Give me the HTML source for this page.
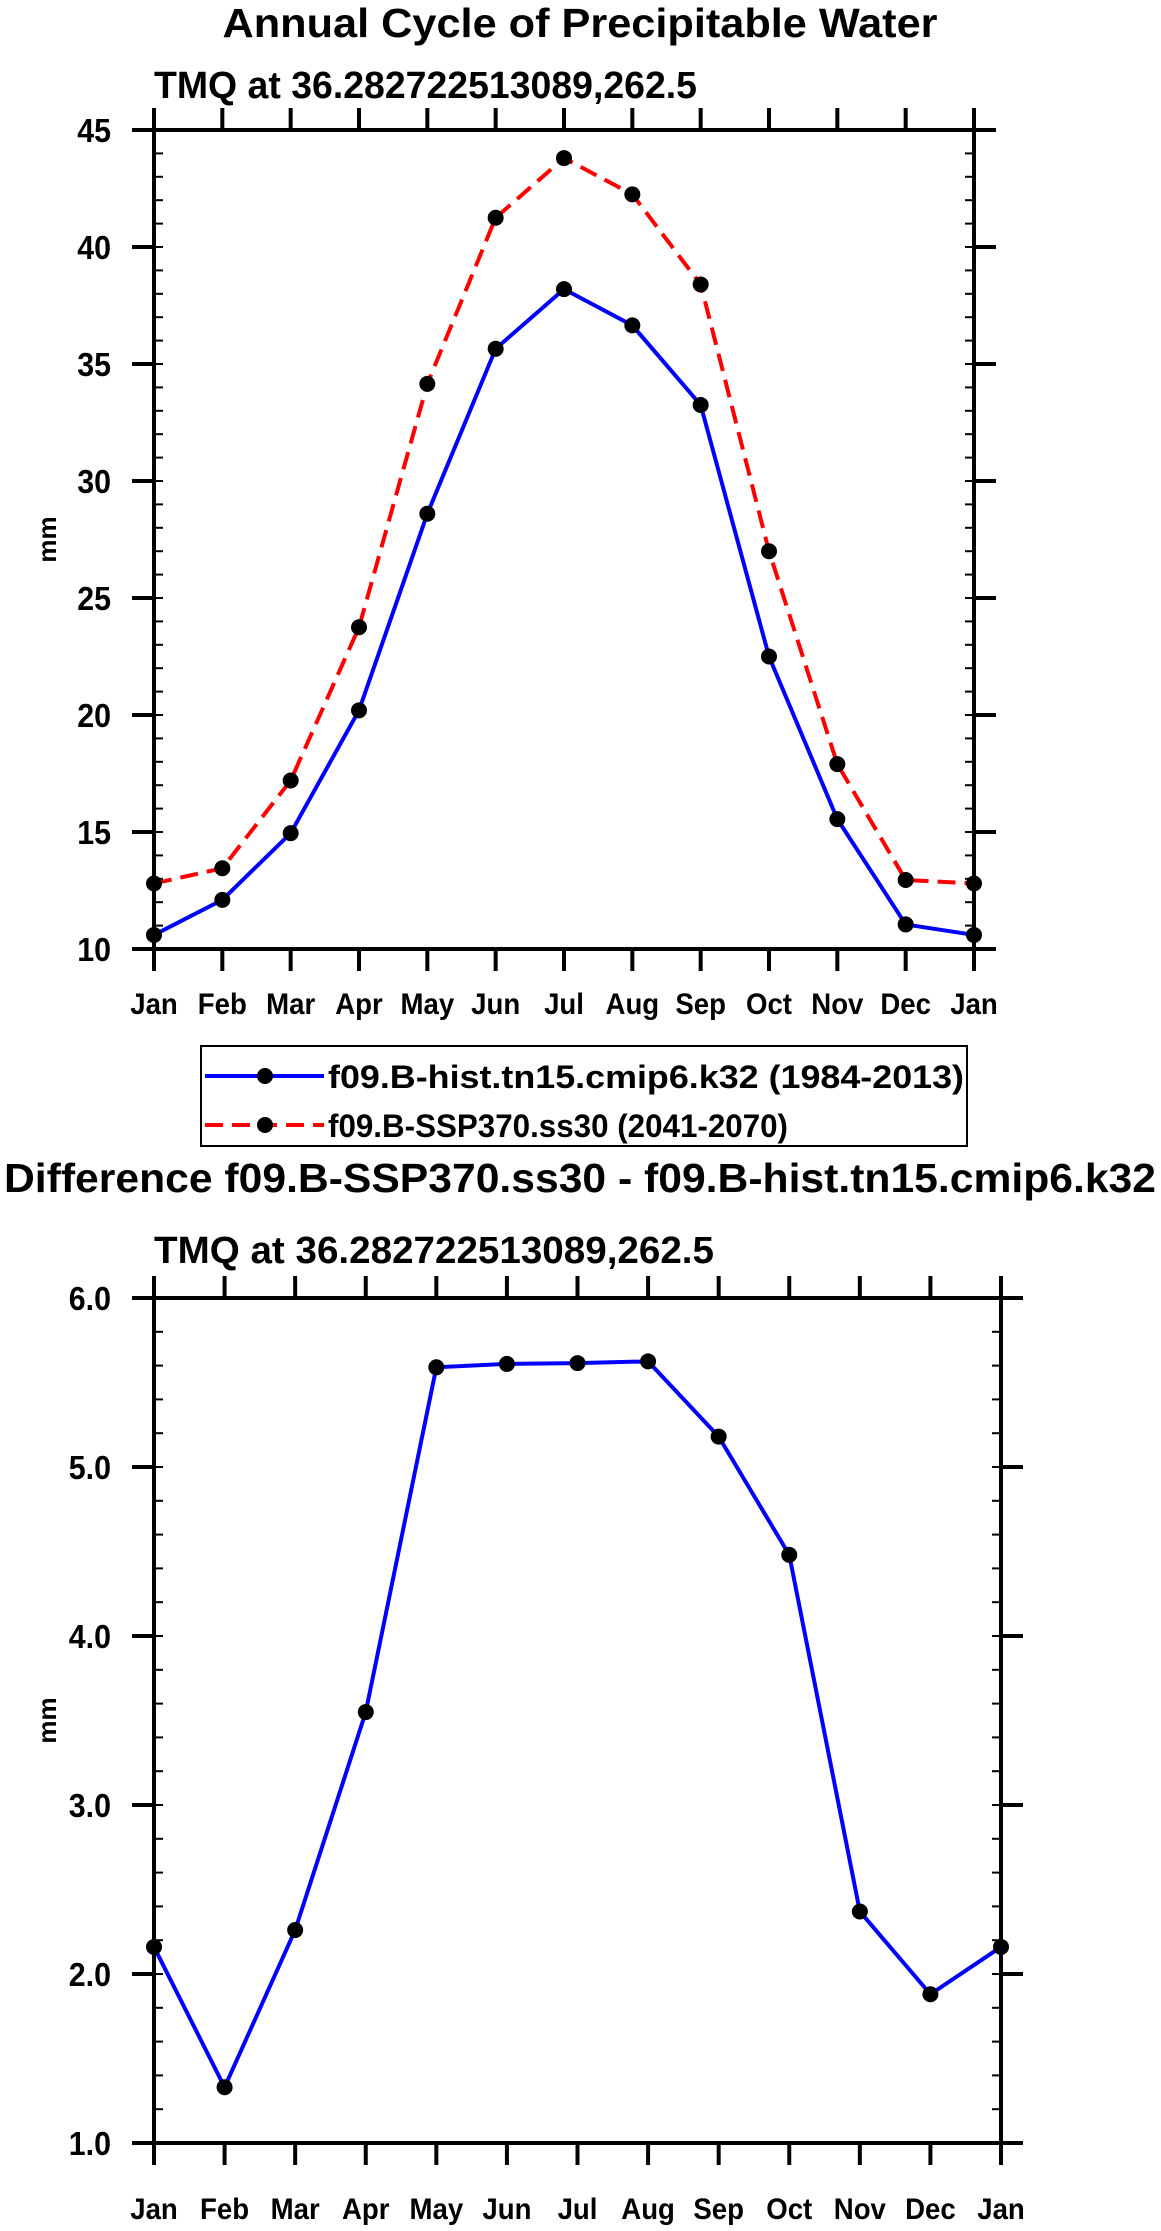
<!DOCTYPE html>
<html><head><meta charset="utf-8"><style>
html,body{margin:0;padding:0;background:#fff}
svg{display:block}
text{font-family:"Liberation Sans",Arial,sans-serif;font-weight:bold;fill:#000}
</style></head><body>
<svg id="fig" width="1161" height="2231" viewBox="0 0 1161 2231" xmlns="http://www.w3.org/2000/svg">
<text x="580" y="37" text-anchor="middle" font-size="41" textLength="715" lengthAdjust="spacingAndGlyphs">Annual Cycle of Precipitable Water</text>
<text x="154" y="98" font-size="38" textLength="543" lengthAdjust="spacingAndGlyphs">TMQ at 36.282722513089,262.5</text>
<text x="580" y="1192" text-anchor="middle" font-size="41" textLength="1152" lengthAdjust="spacingAndGlyphs">Difference f09.B-SSP370.ss30 - f09.B-hist.tn15.cmip6.k32</text>
<text x="154" y="1263" font-size="38" textLength="560" lengthAdjust="spacingAndGlyphs">TMQ at 36.282722513089,262.5</text>
<g id="top"></g>
<g id="bot"></g>
<g>
<rect x="201" y="1046" width="766" height="100" fill="none" stroke="#000" stroke-width="2"/>
<g>
<line x1="205" y1="1076" x2="324" y2="1076" stroke="#0000ff" stroke-width="4"/>
<circle cx="265" cy="1076" r="8" fill="#000"/>
<text x="328" y="1088" font-size="32" textLength="636" lengthAdjust="spacingAndGlyphs">f09.B-hist.tn15.cmip6.k32 (1984-2013)</text>
</g>
<g>
<line x1="205" y1="1125" x2="324" y2="1125" stroke="#ff0000" stroke-width="4" stroke-dasharray="18,9"/>
<circle cx="265" cy="1125" r="8" fill="#000"/>
<text x="328" y="1137" font-size="32" textLength="460" lengthAdjust="spacingAndGlyphs">f09.B-SSP370.ss30 (2041-2070)</text>
</g>
</g>
</svg>
<script>
const months = ["Jan","Feb","Mar","Apr","May","Jun","Jul","Aug","Sep","Oct","Nov","Dec","Jan"];
const histValues = [10.6,12.1,14.95,20.2,28.6,35.65,38.2,36.65,33.25,22.5,15.55,11.05,10.6];
const sspValues = [12.8,13.45,17.2,23.75,34.15,41.25,43.8,42.25,38.4,27.0,17.9,12.95,12.8];
const diffValues = [2.16,1.33,2.26,3.55,5.59,5.61,5.615,5.625,5.18,4.48,2.37,1.88,2.16];
const topTicks = ["10","15","20","25","30","35","40","45"];
const botTicks = ["1.0","2.0","3.0","4.0","5.0","6.0"];

const NS="http://www.w3.org/2000/svg";
function mk(parent,tag,attrs){const e=document.createElementNS(NS,tag);for(const k in attrs)e.setAttribute(k,attrs[k]);parent.appendChild(e);return e;}

function drawChart(g,box,ymin,ymax,minor,ticks,series,labelY,prefix){
  const xs=i=>box.l+(box.r-box.l)*i/(months.length-1);
  const ys=v=>box.b-(box.b-box.t)*(v-ymin)/(ymax-ymin);
  const frame=mk(g,"rect",{x:box.l,y:box.t,width:box.r-box.l,height:box.b-box.t,fill:"none",stroke:"#000","stroke-width":4});
  
  
  for(let v=ymin;v<=ymax+1e-9;v+=minor){
    const y=ys(v);
    mk(g,"line",{x1:box.l,y1:y,x2:box.l+9,y2:y,stroke:"#000","stroke-width":2});
    mk(g,"line",{x1:box.r,y1:y,x2:box.r-9,y2:y,stroke:"#000","stroke-width":2});
  }
  ticks.forEach(t=>{
    const y=ys(parseFloat(t));
    mk(g,"line",{x1:box.l-22,y1:y,x2:box.l,y2:y,stroke:"#000","stroke-width":4});
    mk(g,"line",{x1:box.r,y1:y,x2:box.r+22,y2:y,stroke:"#000","stroke-width":4});
    const tx=mk(g,"text",{x:0,y:0,"text-anchor":"end","font-size":33,transform:`translate(${box.l-43},${y+12}) scale(0.92,1)`});
    tx.textContent=t;
    
    
  });
  months.forEach((m,i)=>{
    const x=xs(i);
    mk(g,"line",{x1:x,y1:box.t-22,x2:x,y2:box.t,stroke:"#000","stroke-width":4});
    mk(g,"line",{x1:x,y1:box.b,x2:x,y2:box.b+22,stroke:"#000","stroke-width":4});
    const tx=mk(g,"text",{x:0,y:0,"text-anchor":"middle","font-size":30,transform:`translate(${x},${labelY}) scale(0.92,1)`});
    tx.textContent=m;
    
    
  });
  const yl=mk(g,"text",{x:0,y:0,"text-anchor":"middle","font-size":26,transform:`translate(${box.l-98},${(box.t+box.b)/2}) rotate(-90)`});
  yl.textContent="mm";
  
  
  series.forEach(s=>{
    const pts=s.values.map((v,i)=>xs(i)+","+ys(v)).join(" ");
    const pl=mk(g,"polyline",{points:pts,fill:"none",stroke:s.color,"stroke-width":4,"stroke-dasharray":s.dash||"none"});
    
    
    s.values.forEach((v,i)=>{
      const c=mk(g,"circle",{cx:xs(i),cy:ys(v),r:8,fill:"#000"});
      
      
    });
  });
}
drawChart(document.getElementById("top"),{l:154,r:974,t:130,b:949},10,45,1,topTicks,
  [{values:histValues,color:"#0000ff",name:"hist"},{values:sspValues,color:"#ff0000",dash:"18,9",name:"ssp370"}],1014,"top");
drawChart(document.getElementById("bot"),{l:154,r:1001,t:1298,b:2143},1,6,0.2,botTicks,
  [{values:diffValues,color:"#0000ff",name:"difference"}],2219,"bottom");
</script>
</body></html>
